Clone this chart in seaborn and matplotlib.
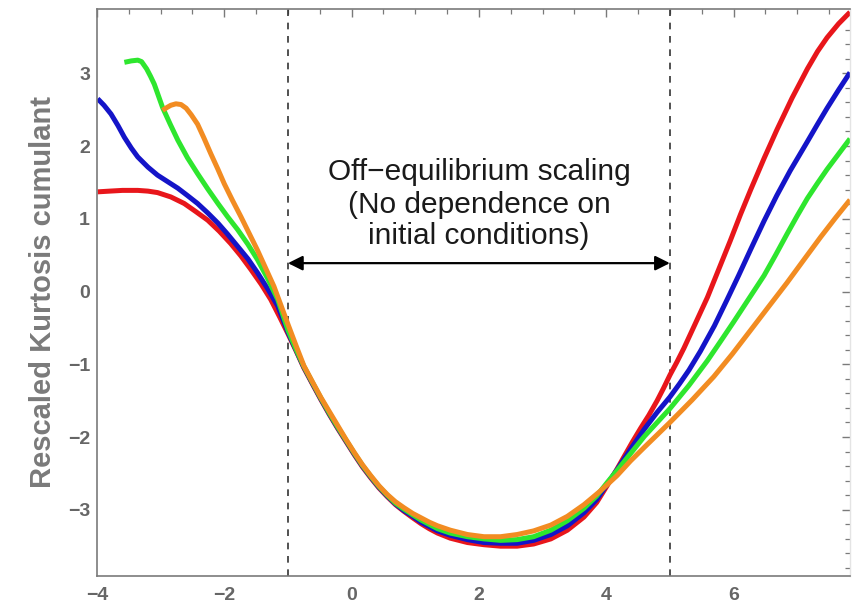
import numpy as np
import pandas as pd
import matplotlib
matplotlib.use("Agg")
import matplotlib.pyplot as plt
from matplotlib.ticker import MultipleLocator
import seaborn as sns

# Rescaled kurtosis cumulant vs scaling variable, four initial conditions
red_x = [-3.99, -3.80, -3.60, -3.36, -3.20, -3.05, -2.84, -2.63, -2.45, -2.26,
         -2.08, -1.90, -1.74, -1.58, -1.42, -1.27, -1.13, -1.00, -0.87, -0.75,
         -0.61, -0.48, -0.35, -0.22, -0.09, 0.04, 0.17, 0.30, 0.43, 0.56,
         0.69, 0.82, 0.96, 1.09, 1.22, 1.35, 1.55, 1.82, 2.08, 2.34,
         2.60, 2.86, 3.13, 3.39, 3.65, 3.85, 4.02, 4.17, 4.28, 4.41,
         4.54, 4.67, 4.80, 4.90, 5.00, 5.11, 5.22, 5.40, 5.59, 5.77,
         5.95, 6.11, 6.27, 6.48, 6.68, 6.92, 7.16, 7.32, 7.47, 7.65, 7.83]
red_y = [1.37, 1.38, 1.39, 1.39, 1.38, 1.36, 1.30, 1.21, 1.10, 0.98,
         0.83, 0.66, 0.49, 0.30, 0.10, -0.11, -0.35, -0.58, -0.82, -1.05,
         -1.28, -1.49, -1.69, -1.88, -2.06, -2.24, -2.41, -2.56, -2.70, -2.82,
         -2.93, -3.02, -3.11, -3.19, -3.26, -3.32, -3.39, -3.45, -3.48, -3.50,
         -3.50, -3.47, -3.40, -3.28, -3.10, -2.90, -2.66, -2.44, -2.27, -2.07,
         -1.88, -1.70, -1.50, -1.33, -1.15, -0.97, -0.78, -0.44, -0.08, 0.31,
         0.70, 1.06, 1.40, 1.83, 2.22, 2.66, 3.06, 3.30, 3.49, 3.68, 3.84]

blue_x = [-3.99, -3.89, -3.78, -3.67, -3.57, -3.46, -3.36, -3.20, -3.05, -2.89,
          -2.73, -2.58, -2.42, -2.26, -2.10, -1.95, -1.79, -1.63, -1.48, -1.32,
          -1.16, -1.00, -0.87, -0.75, -0.61, -0.48, -0.35, -0.22, -0.09, 0.04,
          0.17, 0.30, 0.43, 0.56, 0.69, 0.82, 0.96, 1.09, 1.22, 1.35,
          1.55, 1.82, 2.08, 2.34, 2.60, 2.86, 3.13, 3.39, 3.65, 3.85,
          4.02, 4.17, 4.38, 4.60, 4.80, 5.00, 5.15, 5.30, 5.48, 5.70,
          5.90, 6.08, 6.27, 6.48, 6.68, 6.89, 7.16, 7.32, 7.47, 7.65, 7.83]
blue_y = [2.65, 2.56, 2.44, 2.28, 2.12, 1.97, 1.85, 1.71, 1.60, 1.51,
          1.42, 1.32, 1.21, 1.08, 0.94, 0.79, 0.62, 0.45, 0.26, 0.04,
          -0.20, -0.56, -0.81, -1.04, -1.27, -1.48, -1.68, -1.87, -2.05, -2.23,
          -2.40, -2.55, -2.69, -2.81, -2.92, -3.01, -3.09, -3.17, -3.23, -3.29,
          -3.35, -3.41, -3.45, -3.46, -3.46, -3.42, -3.34, -3.22, -3.04, -2.86,
          -2.64, -2.45, -2.17, -1.89, -1.66, -1.45, -1.27, -1.08, -0.82, -0.47,
          -0.11, 0.22, 0.58, 0.97, 1.32, 1.66, 2.06, 2.30, 2.52, 2.77, 3.01]

green_x = [-3.57, -3.46, -3.36, -3.30, -3.22, -3.16, -3.10, -2.97, -2.85, -2.73,
           -2.58, -2.42, -2.26, -2.10, -1.95, -1.79, -1.63, -1.48, -1.32, -1.16,
           -1.00, -0.87, -0.75, -0.61, -0.48, -0.35, -0.22, -0.09, 0.04, 0.17,
           0.30, 0.43, 0.56, 0.69, 0.82, 0.96, 1.09, 1.22, 1.35, 1.55,
           1.82, 2.08, 2.34, 2.60, 2.86, 3.13, 3.39, 3.65, 3.85, 4.02,
           4.17, 4.38, 4.60, 4.80, 5.00, 5.30, 5.59, 5.80, 6.00, 6.24,
           6.48, 6.66, 6.84, 7.00, 7.16, 7.32, 7.47, 7.65, 7.83]
green_y = [3.15, 3.17, 3.18, 3.16, 3.06, 2.96, 2.85, 2.53, 2.30, 2.08,
           1.84, 1.62, 1.41, 1.21, 1.03, 0.85, 0.65, 0.44, 0.18, -0.11,
           -0.53, -0.80, -1.03, -1.26, -1.47, -1.67, -1.86, -2.04, -2.22, -2.39,
           -2.54, -2.68, -2.80, -2.91, -2.99, -3.07, -3.14, -3.20, -3.26, -3.32,
           -3.37, -3.40, -3.42, -3.41, -3.37, -3.28, -3.15, -2.98, -2.81, -2.62,
           -2.46, -2.23, -1.99, -1.80, -1.61, -1.29, -0.95, -0.68, -0.42, -0.10,
           0.22, 0.50, 0.79, 1.04, 1.28, 1.49, 1.68, 1.89, 2.10]

orange_x = [-2.97, -2.90, -2.84, -2.76, -2.68, -2.60, -2.52, -2.42, -2.32, -2.21,
            -2.10, -2.00, -1.87, -1.74, -1.61, -1.48, -1.35, -1.22, -1.11, -1.00,
            -0.87, -0.75, -0.61, -0.48, -0.35, -0.22, -0.09, 0.04, 0.17, 0.30,
            0.43, 0.56, 0.69, 0.82, 0.96, 1.09, 1.22, 1.35, 1.55, 1.82,
            2.08, 2.34, 2.60, 2.86, 3.13, 3.39, 3.65, 3.91, 4.17, 4.38,
            4.60, 4.80, 5.00, 5.35, 5.69, 5.98, 6.27, 6.55, 6.84, 7.10,
            7.37, 7.60, 7.83]
orange_y = [2.49, 2.53, 2.56, 2.58, 2.57, 2.52, 2.43, 2.30, 2.11, 1.89,
            1.68, 1.48, 1.25, 1.03, 0.80, 0.57, 0.32, 0.07, -0.19, -0.45,
            -0.75, -1.02, -1.25, -1.46, -1.65, -1.84, -2.03, -2.21, -2.38, -2.53,
            -2.67, -2.79, -2.89, -2.97, -3.05, -3.11, -3.17, -3.22, -3.28, -3.34,
            -3.37, -3.37, -3.34, -3.29, -3.21, -3.09, -2.93, -2.74, -2.53, -2.33,
            -2.14, -1.97, -1.80, -1.49, -1.17, -0.86, -0.53, -0.21, 0.12, 0.43,
            0.75, 1.01, 1.26]

series_names = ["red", "blue", "green", "orange"]
series_colors = ["#e8161b", "#1414c8", "#2ee62e", "#f28c22"]

x_ticks = [-4, -2, 0, 2, 4, 6]
y_ticks = [-3, -2, -1, 0, 1, 2, 3]
region_bounds = [-1, 5]
arrow_level = 0.39
note_lines = ["Off\u2212equilibrium scaling", "(No dependence on", "initial conditions)"]
note_levels = [1.64, 1.19, 0.76]
y_label = "Rescaled Kurtosis cumulant"

frames = []
for name, xs, ys in zip(series_names,
                        [red_x, blue_x, green_x, orange_x],
                        [red_y, blue_y, green_y, orange_y]):
    frames.append(pd.DataFrame({"x": xs, "y": ys, "series": name}))
df = pd.concat(frames, ignore_index=True)

sns.set_theme(style="white")
plt.rcParams["font.family"] = ["Liberation Sans", "DejaVu Sans"]

fig = plt.figure(figsize=(8.59, 6.07), dpi=100)
ax = fig.add_axes([97 / 859, 1 - 576 / 607, (850 - 97) / 859, (576 - 8.5) / 607])

sns.lineplot(data=df, x="x", y="y", hue="series", hue_order=series_names,
             palette=dict(zip(series_names, series_colors)), sort=False,
             estimator=None, linewidth=3.6, legend=False, ax=ax,
             solid_joinstyle="round", solid_capstyle="butt")

for xb in region_bounds:
    ax.axvline(xb, color="#333333", lw=1.2, ls=(0, (4, 4)), zorder=1)

ax.annotate("", xy=(region_bounds[0], arrow_level), xytext=(region_bounds[1], arrow_level),
            arrowprops=dict(arrowstyle="<|-|>", color="black", lw=1.6,
                            mutation_scale=22, shrinkA=0, shrinkB=0))
for line, lev in zip(note_lines, note_levels):
    ax.text(2.0, lev, line, ha="center", va="center", fontsize=21.5, color="#1a1a1a")

ax.set_xlim(-4, 7.83)
ax.set_ylim(-3.91, 3.89)
ax.set_xticks(x_ticks)
ax.set_yticks(y_ticks)
ax.xaxis.set_minor_locator(MultipleLocator(0.5))
ax.yaxis.set_minor_locator(MultipleLocator(0.2))
ax.set_xlabel("")
ax.set_ylabel(y_label, fontsize=21, fontweight="bold", color="#7a7a7a", labelpad=8)

frame_col = "#7a7a7a"
for side in ["left", "bottom", "top"]:
    ax.spines[side].set_color(frame_col)
    ax.spines[side].set_linewidth(1.2)
ax.spines["right"].set_color("#e4e4e4")
ax.spines["right"].set_linewidth(1.0)

ax.tick_params(which="both", direction="in", top=True, right=True, color=frame_col)
ax.tick_params(which="major", length=6, width=1.0)
ax.tick_params(which="minor", length=3.5, width=0.9)
ax.tick_params(axis="both", which="major", labelsize=14, labelcolor="#666666")
ax.tick_params(axis="x", pad=8)
ax.tick_params(axis="y", pad=5)
for lab in ax.get_xticklabels() + ax.get_yticklabels():
    lab.set_fontweight("bold")

fig.savefig("out.png", dpi=100)
